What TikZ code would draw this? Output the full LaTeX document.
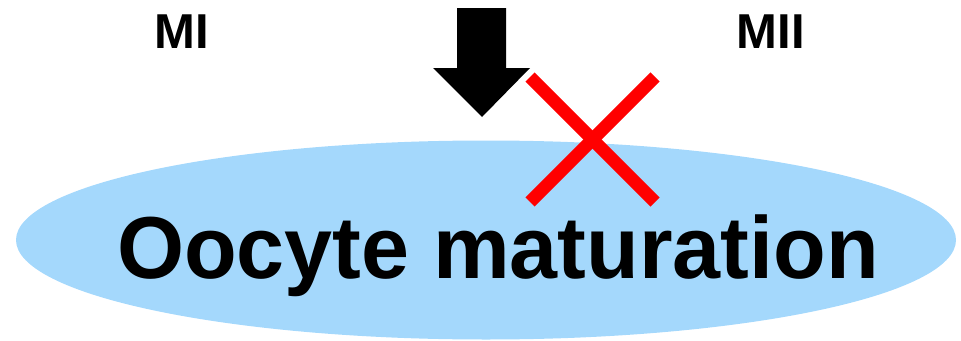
\documentclass[tikz,border=0pt]{standalone}
\usepackage{fontspec}
\setmainfont{Liberation Sans}
\usetikzlibrary{shapes.geometric}
\definecolor{cellblue}{RGB}{164,216,252}
\definecolor{xred}{RGB}{255,0,0}
\begin{document}
\begin{tikzpicture}[x=1pt,y=-1pt,
  lbl/.style={inner sep=0pt,font=\bfseries\fontsize{49}{49}\selectfont},
  cross/.style={draw=xred,line width=13pt,line cap=butt}]
\useasboundingbox (0,0) rectangle (961,340);
\node[ellipse,fill=cellblue,minimum width=940pt,minimum height=199pt,inner sep=0pt] (cell) at (486,240) {};
\node[inner sep=0pt,anchor=base] (title) at (498,278)
  {\scalebox{0.98}[1]{\bfseries\fontsize{88}{88}\selectfont Oocyte maturation}};
\node[lbl,anchor=base] (mi) at (182,48) {MI};
\node[lbl,anchor=base] (mii) at (771,48) {MII};
\fill[black] (457,8) -- (506,8) -- (506,68) -- (530,68) -- (482,117) -- (433,68) -- (457,68) -- cycle;
\coordinate (xa) at (530,77);
\coordinate (xb) at (655,202);
\coordinate (xc) at (655,77);
\coordinate (xd) at (530,202);
\draw[cross] (xa) -- (xb);
\draw[cross] (xc) -- (xd);
\end{tikzpicture}
\end{document}
